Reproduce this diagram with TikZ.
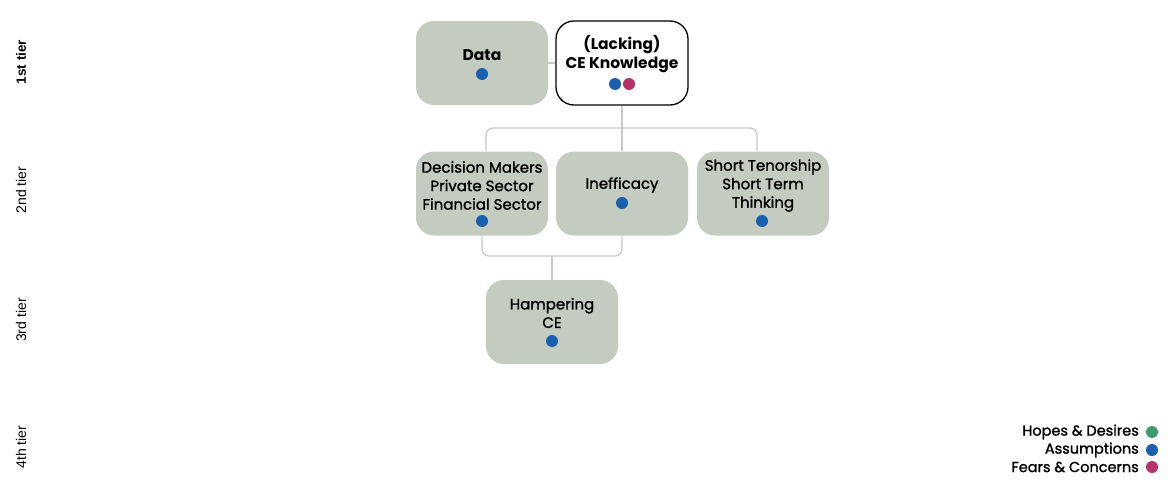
\documentclass[tikz,border=0pt]{standalone}
\usepackage{fontspec}
\setmainfont{Poppins}
\newfontfamily\medfont[FakeBold=1.3]{Poppins}
\newfontfamily\tierfont{Liberation Sans}
\definecolor{boxgray}{RGB}{196,204,191}
\definecolor{linegray}{RGB}{200,200,200}
\definecolor{dotblue}{RGB}{27,95,176}
\definecolor{dotred}{RGB}{184,50,104}
\definecolor{dotgreen}{RGB}{62,154,104}
\tikzset{
  card/.style={rounded corners=18pt, minimum width=132pt, minimum height=84pt, inner sep=0pt},
  graycard/.style={card, fill=boxgray},
  whitecard/.style={card, fill=white, draw=black, line width=1.3pt},
  cardtext/.style={align=center, font=\medfont\fontsize{15}{18.5}\selectfont, inner sep=0pt},
  toptext/.style={cardtext, font=\fontsize{15.5}{19}\selectfont\bfseries},
  dot/.style={circle, inner sep=0pt, minimum size=12pt},
  link/.style={draw=linegray, line width=1.3pt, rounded corners=7pt},
  tier/.style={rotate=90, font=\tierfont\fontsize{14}{16}\selectfont, inner sep=0pt},
  legend/.style={anchor=east, font=\medfont\fontsize{14.5}{15}\selectfont, inner sep=0pt}
}
\begin{document}
\begin{tikzpicture}[x=1pt,y=-1pt]
\useasboundingbox[fill=white] (0,0) rectangle (1172,479);
% tier labels
\node[tier, font=\tierfont\fontsize{13.5}{16}\selectfont\bfseries] (t1) at (21,62) {1st tier};
\node[tier] (t2) at (21,190) {2nd tier};
\node[tier] (t3) at (21,320) {3rd tier};
\node[tier] (t4) at (21,447) {4th tier};
% boxes
\node[graycard] (data) at (482,63) {};
\node[whitecard] (ce) at (622,63) {};
\node[graycard] (dm) at (482,193.5) {};
\node[graycard] (ineff) at (622,193.5) {};
\node[graycard] (short) at (763,193.5) {};
\node[graycard] (hamp) at (552,322) {};
% connectors
\draw[link] (data.east) -- (ce.west);
\coordinate (split) at (622,128);
\draw[link] (ce.south) -- (split);
\draw[link] (split) -| (dm.north -| 486,0);
\draw[link] (split) -| (ineff.north);
\draw[link] (split) -| (short.north -| 757,0);
\coordinate (join) at (552,256);
\draw[link] (dm.south) |- (join);
\draw[link] (ineff.south) |- (join);
\draw[link] (join) -- (hamp.north);
% texts
\node[toptext] (datat) at (482,55) {Data};
\node[dot, fill=dotblue] (datad) at (482,74) {};
\node[toptext] (cet) at (622,54.5) {(Lacking)\\CE Knowledge};
\node[dot, fill=dotblue] (ced1) at (615,84) {};
\node[dot, fill=dotred] (ced2) at (629,84) {};
\node[cardtext] (dmt) at (482,185.5) {Decision Makers\\Private Sector\\Financial Sector};
\node[dot, fill=dotblue] (dmd) at (482,221) {};
\node[cardtext] (inefft) at (622,185) {Inefficacy};
\node[dot, fill=dotblue] (ineffd) at (622,203) {};
\node[cardtext] (shortt) at (763,185.5) {Short Tenorship\\Short Term\\Thinking};
\node[dot, fill=dotblue] (shortd) at (762,221) {};
\node[cardtext] (hampt) at (552,313) {Hampering\\CE};
\node[dot, fill=dotblue] (hampd) at (552,341) {};
% legend
\node[legend] (l1) at (1139,432) {Hopes \& Desires};
\node[dot, fill=dotgreen] (l1d) at (1152,432) {};
\node[legend] (l2) at (1139,450) {Assumptions};
\node[dot, fill=dotblue] (l2d) at (1152,450) {};
\node[legend] (l3) at (1139,467) {Fears \& Concerns};
\node[dot, fill=dotred] (l3d) at (1152,467) {};
\end{tikzpicture}
\end{document}
